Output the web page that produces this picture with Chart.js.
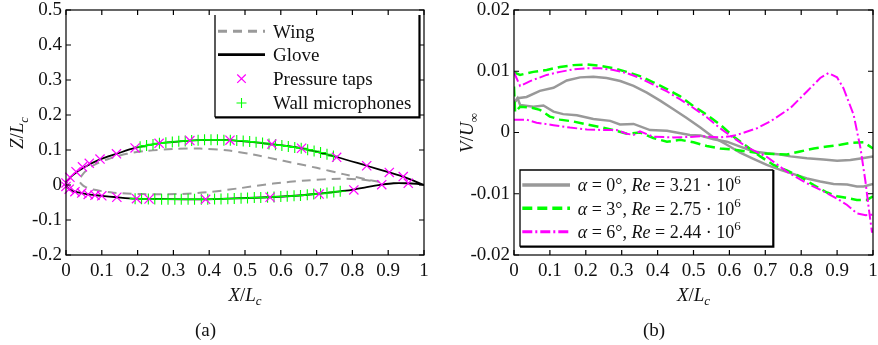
<!DOCTYPE html>
<html>
<head>
<meta charset="utf-8">
<style>
  body { margin: 0; background: #fff; width: 878px; height: 345px; position: relative; overflow: hidden; }
  .panel { position: absolute; top: 0; height: 345px; }
  #panelA { left: 0; width: 440px; }
  #panelB { left: 440px; width: 438px; }
  .caption { position: absolute; top: 319px; line-height: 20px; font: 19px "Liberation Serif", serif; color: #111; }
</style>
</head>
<body>
<div class="panel" id="panelA"><canvas id="shapeChart"></canvas></div>
<div class="panel" id="panelB"><canvas id="velocityChart"></canvas></div>
<div class="caption" style="left:195px">(a)</div>
<div class="caption" style="left:643px">(b)</div>

<script src="https://cdn.jsdelivr.net/npm/chart.js@4/dist/chart.umd.min.js"></script>
<script>
// ---- axis ticks ----
const xTicks = [0, 0.1, 0.2, 0.3, 0.4, 0.5, 0.6, 0.7, 0.8, 0.9, 1];
const zTicks = [-0.2, -0.1, 0, 0.1, 0.2, 0.3, 0.4, 0.5];
const vTicks = [-0.02, -0.01, 0, 0.01, 0.02];

// ---- (a) profiles, [X/Lc, Z/Lc], leading edge to trailing edge ----
const wingUpper = [[0.036, 0.014], [0.042, 0.024], [0.055, 0.04], [0.08, 0.058], [0.12, 0.075], [0.17, 0.089],
  [0.22, 0.097], [0.30, 0.103], [0.374, 0.104], [0.449, 0.099], [0.523, 0.087], [0.607, 0.069],
  [0.70, 0.049], [0.775, 0.031], [0.84, 0.016], [0.875, 0.009]];
const wingLower = [[0.036, 0.014], [0.043, 0.003], [0.055, -0.006], [0.076, -0.013], [0.132, -0.022],
  [0.216, -0.026], [0.309, -0.026], [0.393, -0.021], [0.486, -0.009], [0.579, 0.004], [0.672, 0.013],
  [0.765, 0.018], [0.82, 0.016], [0.875, 0.009]];
const gloveUpper = [[0, 0], [0.004, 0.013], [0.02, 0.029], [0.05, 0.05], [0.095, 0.073], [0.141, 0.089],
  [0.193, 0.106], [0.26, 0.119], [0.346, 0.127], [0.40, 0.129], [0.458, 0.128], [0.57, 0.117],
  [0.658, 0.105], [0.756, 0.08], [0.84, 0.055], [0.903, 0.036], [0.942, 0.024], [1, 0]];
const gloveLower = [[0, 0], [0.009, -0.012], [0.025, -0.019], [0.044, -0.023], [0.062, -0.027], [0.081, -0.029],
  [0.10, -0.031], [0.142, -0.035], [0.193, -0.039], [0.25, -0.040], [0.383, -0.041], [0.45, -0.039],
  [0.564, -0.035], [0.65, -0.030], [0.704, -0.025], [0.765, -0.018], [0.804, -0.013], [0.84, -0.006],
  [0.882, 0.001], [0.915, 0.005], [0.95, 0.005], [0.98, 0.003], [1, 0]];
const pressureTaps = [[0, 0.006], [0.011, 0.022], [0.028, 0.038], [0.046, 0.052], [0.065, 0.062], [0.095, 0.074],
  [0.141, 0.089], [0.193, 0.106], [0.26, 0.119], [0.346, 0.127], [0.458, 0.128], [0.575, 0.117],
  [0.658, 0.105], [0.756, 0.079], [0.84, 0.055], [0.903, 0.036], [0.942, 0.024],
  [0, -0.004], [0.009, -0.012], [0.025, -0.019], [0.044, -0.023], [0.062, -0.027], [0.081, -0.029],
  [0.10, -0.031], [0.142, -0.035], [0.197, -0.039], [0.232, -0.040], [0.39, -0.041], [0.57, -0.035],
  [0.707, -0.026], [0.804, -0.014], [0.882, 0.001], [0.956, 0.005]];
const micsUpper = [[0.207, 0.109], [0.225, 0.113], [0.243, 0.116], [0.261, 0.119], [0.279, 0.121], [0.297, 0.123],
  [0.315, 0.125], [0.333, 0.126], [0.351, 0.127], [0.369, 0.128], [0.387, 0.129], [0.405, 0.129],
  [0.423, 0.129], [0.441, 0.128], [0.459, 0.128], [0.477, 0.127], [0.495, 0.126], [0.513, 0.124],
  [0.531, 0.122], [0.549, 0.120], [0.567, 0.117], [0.585, 0.115], [0.603, 0.113], [0.621, 0.110],
  [0.639, 0.107], [0.657, 0.105], [0.675, 0.101], [0.693, 0.097], [0.711, 0.093], [0.729, 0.088], [0.747, 0.083]];
const micsLower = [[0.193, -0.039], [0.211, -0.0395], [0.230, -0.040], [0.248, -0.040], [0.267, -0.0405],
  [0.285, -0.041], [0.304, -0.041], [0.322, -0.041], [0.341, -0.041], [0.359, -0.041], [0.378, -0.041],
  [0.396, -0.041], [0.415, -0.040], [0.433, -0.040], [0.452, -0.039], [0.470, -0.0385], [0.489, -0.038],
  [0.507, -0.037], [0.526, -0.036], [0.544, -0.036], [0.563, -0.035], [0.581, -0.034], [0.600, -0.033],
  [0.618, -0.032], [0.637, -0.031], [0.655, -0.030], [0.674, -0.028], [0.692, -0.026], [0.711, -0.025],
  [0.729, -0.023], [0.748, -0.020], [0.766, -0.018]];

// ---- (b) V/U∞ along the chord, [X/Lc, V/U∞] ----
const alpha0Upper = [[0, 0.0048], [0.01, 0.0056], [0.035, 0.0058], [0.072, 0.0068], [0.11, 0.0073], [0.147, 0.0085],
  [0.184, 0.009], [0.221, 0.0091], [0.258, 0.0089], [0.296, 0.0084], [0.333, 0.0076], [0.37, 0.0065],
  [0.407, 0.0052], [0.444, 0.0038], [0.48, 0.0024], [0.519, 0.0008], [0.556, -0.0008], [0.593, -0.002],
  [0.63, -0.0033], [0.667, -0.0043], [0.704, -0.0053], [0.742, -0.0061], [0.779, -0.0068], [0.816, -0.0075],
  [0.853, -0.008], [0.89, -0.0084], [0.928, -0.0085], [0.955, -0.0088], [0.974, -0.0088], [1, -0.0084]];
const alpha0Lower = [[0, 0.0048], [0.01, 0.0056], [0.017, 0.0045], [0.054, 0.0042], [0.082, 0.0044], [0.11, 0.0034],
  [0.137, 0.003], [0.175, 0.0028], [0.221, 0.0022], [0.268, 0.0019], [0.295, 0.0013], [0.333, 0.0014],
  [0.379, 0.0004], [0.426, 0.0003], [0.49, -0.0004], [0.519, -0.0005], [0.556, -0.0011], [0.593, -0.0015],
  [0.63, -0.0023], [0.667, -0.0031], [0.705, -0.0034], [0.742, -0.0036], [0.77, -0.0039], [0.816, -0.0042],
  [0.862, -0.0044], [0.9, -0.0046], [0.937, -0.0045], [0.97, -0.0042], [1, -0.0039]];
const alpha3Upper = [[0, 0.0098], [0.017, 0.0094], [0.054, 0.0099], [0.091, 0.0102], [0.128, 0.0107], [0.165, 0.011],
  [0.203, 0.0111], [0.24, 0.0109], [0.277, 0.0105], [0.314, 0.0099], [0.351, 0.0092], [0.388, 0.0082],
  [0.426, 0.0071], [0.463, 0.0059], [0.5, 0.0043], [0.537, 0.0029], [0.574, 0.0013], [0.612, -0.0007],
  [0.649, -0.0023], [0.686, -0.0039], [0.723, -0.0053], [0.76, -0.0062], [0.797, -0.0072], [0.835, -0.0086],
  [0.872, -0.0098], [0.9, -0.0104], [0.928, -0.0107], [0.955, -0.011], [0.983, -0.011], [1, -0.0104]];
const alpha3Lower = [[0, 0.0075], [0.003, 0.0033], [0.017, 0.0042], [0.045, 0.0041], [0.072, 0.0037], [0.1, 0.0026],
  [0.128, 0.0021], [0.165, 0.0018], [0.203, 0.0013], [0.24, 0.0009], [0.277, 0.0004], [0.314, -0.0002],
  [0.351, 0.0], [0.388, -0.0009], [0.426, -0.0015], [0.463, -0.0012], [0.5, -0.0016], [0.537, -0.0022],
  [0.574, -0.0026], [0.612, -0.0028], [0.649, -0.0031], [0.686, -0.0034], [0.723, -0.0035], [0.76, -0.0036],
  [0.797, -0.0031], [0.835, -0.0026], [0.872, -0.0023], [0.909, -0.002], [0.937, -0.0017], [0.974, -0.0016],
  [1, -0.0026]];
const alpha6Upper = [[0, 0.0098], [0.017, 0.0076], [0.045, 0.0084], [0.091, 0.0094], [0.128, 0.0099], [0.165, 0.0103],
  [0.203, 0.0105], [0.24, 0.0105], [0.277, 0.0102], [0.314, 0.0097], [0.351, 0.0089], [0.388, 0.0078],
  [0.426, 0.0067], [0.463, 0.0054], [0.5, 0.004], [0.537, 0.0025], [0.574, 0.0007], [0.612, -0.0009],
  [0.649, -0.0024], [0.705, -0.0040], [0.76, -0.0064], [0.816, -0.0083], [0.862, -0.0096], [0.9, -0.0108],
  [0.927, -0.0118], [0.955, -0.0132], [0.98, -0.0135], [1, -0.0134]];
const alpha6Lower = [[0, 0.0021], [0.035, 0.0021], [0.063, 0.0016], [0.11, 0.0012], [0.156, 0.0008], [0.203, 0.0005],
  [0.249, 0.0004], [0.286, 0.0004], [0.314, -0.0002], [0.333, -0.0004], [0.351, 0.0002], [0.388, -0.0007],
  [0.444, -0.0008], [0.5, -0.0007], [0.519, -0.0006], [0.574, -0.0008], [0.602, -0.0006], [0.621, -0.0004],
  [0.677, 0.0007], [0.714, 0.0018], [0.77, 0.004], [0.816, 0.0067], [0.853, 0.0089], [0.876, 0.0097],
  [0.9, 0.009], [0.918, 0.0072], [0.946, 0.0029], [0.965, -0.0025], [0.979, -0.008], [0.988, -0.0123],
  [0.997, -0.0162], [1, -0.0162]];

const FONT = '"Liberation Serif", serif';
const INK = '#111';
Chart.defaults.font.family = FONT;
Chart.defaults.color = INK;

const pts = arr => arr.map(([x, y]) => ({ x, y }));
const contour = (upper, lower) => pts([...upper].reverse().concat(lower.slice(1)));

// text runs: roman, italic, subscript, superscript
const r = t => ({ t });
const it = t => ({ t, it: true });
const sub = (t, itl) => ({ t, sub: true, it: itl });
const sup = t => ({ t, sup: true });

function drawRich(ctx, parts, x, y, size, align) {
  const fontFor = p => `${p.it ? 'italic ' : ''}${p.sub || p.sup ? Math.round(size * 0.7) : size}px ${FONT}`;
  let width = 0;
  parts.forEach(p => { ctx.font = fontFor(p); width += ctx.measureText(p.t).width; });
  let cx = align === 'center' ? x - width / 2 : x;
  ctx.textAlign = 'left';
  ctx.textBaseline = 'alphabetic';
  parts.forEach(p => {
    ctx.font = fontFor(p);
    const dy = p.sub ? size * 0.25 : p.sup ? -size * 0.42 : 0;
    ctx.fillText(p.t, cx, y + dy);
    cx += ctx.measureText(p.t).width;
  });
}

function drawMarker(ctx, style, radius, x, y) {
  const d = style === 'crossRot' ? radius * Math.SQRT1_2 : radius;
  ctx.beginPath();
  if (style === 'crossRot') {
    ctx.moveTo(x - d, y - d); ctx.lineTo(x + d, y + d);
    ctx.moveTo(x - d, y + d); ctx.lineTo(x + d, y - d);
  } else {
    ctx.moveTo(x - d, y); ctx.lineTo(x + d, y);
    ctx.moveTo(x, y - d); ctx.lineTo(x, y + d);
  }
  ctx.stroke();
}

// box with inward ticks on all four sides
const frameTicks = {
  id: 'frameTicks',
  afterDatasetsDraw(chart) {
    const { ctx, chartArea: a, scales: { x, y } } = chart;
    ctx.save();
    ctx.strokeStyle = '#000';
    ctx.lineWidth = 1.2;
    ctx.setLineDash([]);
    ctx.strokeRect(a.left, a.top, a.right - a.left, a.bottom - a.top);
    ctx.beginPath();
    x.ticks.forEach(t => {
      const px = x.getPixelForValue(t.value);
      ctx.moveTo(px, a.bottom); ctx.lineTo(px, a.bottom - 5);
      ctx.moveTo(px, a.top); ctx.lineTo(px, a.top + 5);
    });
    y.ticks.forEach(t => {
      const py = y.getPixelForValue(t.value);
      ctx.moveTo(a.left, py); ctx.lineTo(a.left + 5, py);
      ctx.moveTo(a.right, py); ctx.lineTo(a.right - 5, py);
    });
    ctx.stroke();
    ctx.restore();
  }
};

const boxLegend = {
  id: 'boxLegend',
  afterDatasetsDraw(chart, args, o) {
    const ctx = chart.ctx;
    ctx.save();
    ctx.fillStyle = '#fff';
    ctx.fillRect(o.left, o.top, o.right - o.left, o.bottom - o.top);
    ctx.strokeStyle = '#000';
    ctx.setLineDash([]);
    ctx.lineWidth = 1.3;
    ctx.beginPath();
    ctx.moveTo(o.left, o.bottom); ctx.lineTo(o.left, o.top);
    if (o.topEdge) ctx.lineTo(o.right, o.top);
    ctx.stroke();
    ctx.lineWidth = 2.2;
    ctx.beginPath();
    ctx.moveTo(o.left, o.bottom); ctx.lineTo(o.right, o.bottom); ctx.lineTo(o.right, o.top);
    ctx.stroke();
    o.items.forEach((item, i) => {
      const ds = chart.data.datasets[item.dataset];
      const y = o.rows[i];
      if (ds.showLine) {
        ctx.strokeStyle = ds.borderColor;
        ctx.lineWidth = ds.borderWidth + 1;
        ctx.setLineDash(ds.borderDash || []);
        ctx.beginPath();
        ctx.moveTo(o.sampleLeft, y); ctx.lineTo(o.sampleRight, y);
        ctx.stroke();
        ctx.setLineDash([]);
      } else {
        ctx.strokeStyle = ds.pointBorderColor;
        ctx.lineWidth = ds.pointBorderWidth;
        drawMarker(ctx, ds.pointStyle, ds.pointRadius - 0.5, (o.sampleLeft + o.sampleRight) / 2, y);
      }
      ctx.fillStyle = INK;
      drawRich(ctx, item.text, o.textLeft, y + 6.3, o.fontSize, 'left');
    });
    ctx.restore();
  }
};

// axis titles drawn as math-style runs
const axisTitles = {
  id: 'axisTitles',
  afterDraw(chart, args, o) {
    const ctx = chart.ctx;
    ctx.save();
    ctx.fillStyle = INK;
    drawRich(ctx, o.x.text, o.x.cx, o.x.baseline, 19, 'center');
    ctx.translate(o.y.baseline, o.y.cy);
    ctx.rotate(-Math.PI / 2);
    drawRich(ctx, o.y.text, 0, 0, 19, 'center');
    ctx.restore();
  }
};

// tick marks are hidden (grid.display false); tickLength only spaces the labels
function axes(yTicks, yWidth) {
  const tickFont = { size: 19, lineHeight: 1 };
  return {
    x: {
      type: 'linear', min: 0, max: 1,
      afterBuildTicks: s => { s.ticks = xTicks.map(value => ({ value })); },
      afterFit: s => { s.height = 90; },
      grid: { display: false, drawTicks: true, tickLength: 7 },
      border: { display: false },
      ticks: { font: tickFont, padding: 0, autoSkip: false, maxRotation: 0, callback: v => String(v) }
    },
    y: {
      type: 'linear', min: yTicks[0], max: yTicks[yTicks.length - 1],
      afterBuildTicks: s => { s.ticks = yTicks.map(value => ({ value })); },
      afterFit: s => { s.width = yWidth; },
      grid: { display: false, drawTicks: true, tickLength: 4 },
      border: { display: false },
      ticks: { font: tickFont, padding: 0, autoSkip: false, callback: v => String(v) }
    }
  };
}

new Chart(document.getElementById('shapeChart'), {
  type: 'scatter',
  data: {
    datasets: [
      { label: 'Wing', data: contour(wingUpper, wingLower), showLine: true, pointRadius: 0,
        borderColor: '#9a9a9a', borderWidth: 2, borderDash: [9, 6], tension: 0.3, order: 3 },
      { label: 'Glove', data: contour(gloveUpper, gloveLower), showLine: true, pointRadius: 0,
        borderColor: '#000', borderWidth: 1.8, tension: 0.3, order: 2 },
      { label: 'Pressure taps', data: pts(pressureTaps), showLine: false, pointStyle: 'crossRot',
        pointRadius: 6.5, pointBorderColor: '#ff00ff', pointBorderWidth: 1.2, clip: false, order: 0 },
      { label: 'Wall microphones', data: pts(micsUpper.concat(micsLower)), showLine: false, pointStyle: 'cross',
        pointRadius: 5.5, pointBorderColor: '#00ff00', pointBorderWidth: 1.1, clip: false, order: 1 }
    ]
  },
  options: {
    responsive: true, maintainAspectRatio: false, animation: false,
    layout: { padding: { left: 0, right: 16, top: 10, bottom: 0 } },
    scales: axes(zTicks, 66),
    plugins: {
      legend: { display: false }, tooltip: { enabled: false },
      boxLegend: {
        left: 215, right: 419.5, top: 15, bottom: 117.3, topEdge: false, fontSize: 19,
        sampleLeft: 218, sampleRight: 265, textLeft: 273, rows: [31.3, 54.7, 78.7, 103],
        items: [
          { dataset: 0, text: [r('Wing')] },
          { dataset: 1, text: [r('Glove')] },
          { dataset: 2, text: [r('Pressure taps')] },
          { dataset: 3, text: [r('Wall microphones')] }
        ]
      },
      axisTitles: {
        x: { text: [it('X'), r('/'), it('L'), sub('c', true)], cx: 245, baseline: 300.5 },
        y: { text: [it('Z'), r('/'), it('L'), sub('c', true)], cy: 133, baseline: 23 }
      }
    }
  },
  plugins: [boxLegend, frameTicks, axisTitles]
});

const gray = { borderColor: '#999999', borderWidth: 2.5, borderDash: [], order: 2 };
const green = { borderColor: '#00ff00', borderWidth: 2.5, borderDash: [10, 5], order: 1 };
const magenta = { borderColor: '#ff00ff', borderWidth: 2, borderDash: [10, 3, 2, 3], order: 0 };
const curve = (label, arr, style) => ({ label, data: pts(arr), showLine: true, pointRadius: 0, tension: 0, ...style });

new Chart(document.getElementById('velocityChart'), {
  type: 'scatter',
  data: {
    datasets: [
      curve('α = 0°', alpha0Upper, gray),
      curve('α = 3°', alpha3Upper, green),
      curve('α = 6°', alpha6Upper, magenta),
      curve('α = 0°', alpha0Lower, gray),
      curve('α = 3°', alpha3Lower, green),
      curve('α = 6°', alpha6Lower, magenta)
    ]
  },
  options: {
    responsive: true, maintainAspectRatio: false, animation: false,
    layout: { padding: { left: 0, right: 5, top: 10, bottom: 0 } },
    scales: axes(vTicks, 74),
    plugins: {
      legend: { display: false }, tooltip: { enabled: false },
      boxLegend: {
        left: 80, right: 333.3, top: 170, bottom: 246.7, topEdge: true, fontSize: 18,
        sampleLeft: 82.3, sampleRight: 130, textLeft: 137.7, rows: [185, 208.3, 231.7],
        items: [
          { dataset: 0, text: [it('α'), r(' = 0°, '), it('Re'), r(' = 3.21 · 10'), sup('6')] },
          { dataset: 1, text: [it('α'), r(' = 3°, '), it('Re'), r(' = 2.75 · 10'), sup('6')] },
          { dataset: 2, text: [it('α'), r(' = 6°, '), it('Re'), r(' = 2.44 · 10'), sup('6')] }
        ]
      },
      axisTitles: {
        x: { text: [it('X'), r('/'), it('L'), sub('c', true)], cx: 253.5, baseline: 300.5 },
        y: { text: [it('V'), r('/'), it('U'), sub('∞')], cy: 133, baseline: 33 }
      }
    }
  },
  plugins: [boxLegend, frameTicks, axisTitles]
});
</script>
</body>
</html>
